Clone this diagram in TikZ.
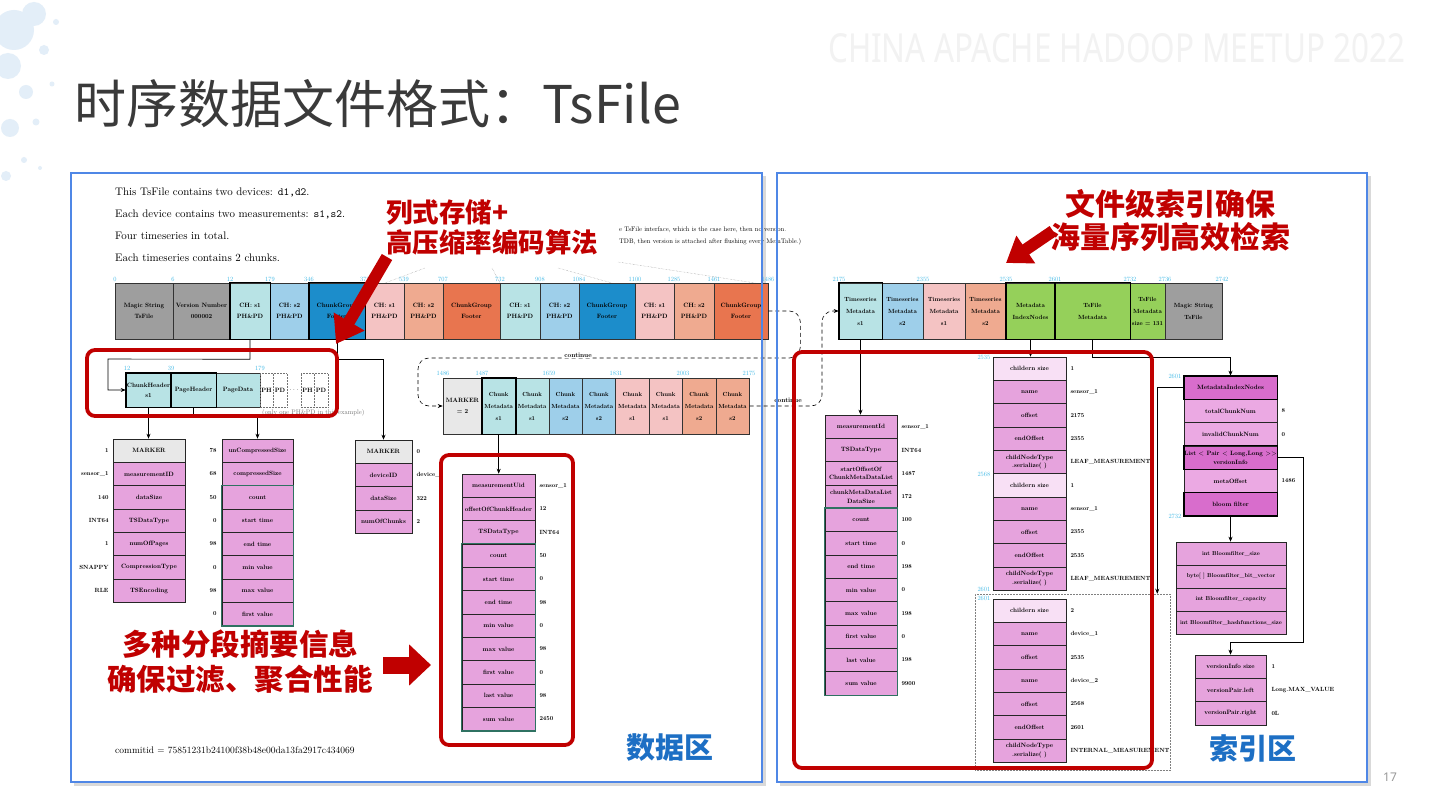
\documentclass[tikz,border=0pt]{standalone}
\usepackage{fontspec}
\usepackage{graphicx}
\usepackage{tikz}
\usetikzlibrary{positioning,arrows.meta,calc}
\setmainfont{lmroman10-regular.otf}[BoldFont=lmroman10-bold.otf, ItalicFont=lmroman10-italic.otf, BoldItalicFont=lmroman10-bolditalic.otf]
\newfontfamily\cjk{Noto Sans CJK SC}
\newfontfamily\slidesans{Noto Sans}
\definecolor{panelblue}{HTML}{4F87E6}
\definecolor{magicgrey}{HTML}{9E9E9E}
\definecolor{markgrey}{HTML}{E8E8E8}
\definecolor{cyanl}{HTML}{B8E3E5}
\definecolor{bluel}{HTML}{9ECFEA}
\definecolor{blued}{HTML}{1C8DCB}
\definecolor{pinkl}{HTML}{F4C3C3}
\definecolor{salm}{HTML}{EFAA90}
\definecolor{orng}{HTML}{E8754F}
\definecolor{grn}{HTML}{95D05A}
\definecolor{tabpink}{HTML}{E6A3DD}
\definecolor{tablite}{HTML}{F8E0F5}
\definecolor{tabdeep}{HTML}{D86DCC}
\definecolor{tabmid}{HTML}{EBA9E3}
\definecolor{statgreen}{HTML}{2F7262}
\definecolor{offcyan}{HTML}{3DB8E6}
\definecolor{callred}{HTML}{C00000}
\definecolor{zoneblue}{HTML}{1D6FC4}
\definecolor{splashblue}{HTML}{E3EEF8}
\definecolor{titlegrey}{HTML}{3A3A3A}
\tikzset{
  ts base/.style={align=center, inner sep=0pt, font=\fontsize{6.2}{11.5}\selectfont\bfseries},
  ts blk/.style={ts base, draw=black!80, line width=0.6pt, minimum height=56pt},
  ts sub/.style={ts base, draw=black!80, line width=0.6pt, fill=cyanl, minimum height=34pt, font=\fontsize{6.2}{10}\selectfont\bfseries},
  ts ph/.style={ts base, draw=black!55, densely dotted, line width=0.5pt, minimum height=34pt},
  ts off/.style={font=\fontsize{6.4}{7}\selectfont, text=offcyan, inner sep=0.5pt, anchor=south},
  ts row/.style={ts base, draw=black!85, line width=0.6pt, fill=tabpink, minimum height=23.33pt, font=\fontsize{6.2}{8.6}\selectfont\bfseries},
  ts val/.style={font=\fontsize{6}{7}\selectfont\bfseries, inner sep=0pt},
  ts arr/.style={-{Stealth[length=5pt, width=4pt]}, line width=0.6pt, black},
  ts stat/.style={draw=statgreen, line width=1.3pt},
  ts redbox/.style={draw=callred, line width=3.8pt, rounded corners=8pt},
  ts call/.style={text=callred, align=center, inner sep=0pt},
  ts cont/.style={dash pattern=on 4pt off 3pt, line width=0.6pt, rounded corners=11pt, -{Stealth[length=5pt, width=4pt]}},
  ts contlbl/.style={font=\fontsize{6.5}{7}\selectfont\bfseries, inner sep=0.6pt, fill=white},
  ts zone/.style={font=\cjk\bfseries\fontsize{29}{32}\selectfont, text=zoneblue, inner sep=0pt},
  ts panel/.style={draw=panelblue, line width=2.6pt},
}
\begin{document}
\begin{tikzpicture}[x=1pt, y=-1pt]
  \useasboundingbox (0,0) rectangle (1440,810);
  \fill[white] (0,0) rectangle (1440,810);
  % slide decoration
  \foreach \x/\y/\r in {14/30/20, 34/14/12, 8/66/13, 26/92/7, 44/50/5, 10/128/9, 36/122/3.5, 56/22/3, 6/176/5, 52/84/2.5, 24/160/3, 40/168/2}
    \fill[splashblue] (\x,\y) circle[radius=\r];
  \node[anchor=west, inner sep=0pt, text=black!5] (wm) at (828,48) {\resizebox{577pt}{29pt}{\slidesans CHINA APACHE HADOOP MEETUP 2022}};
  \node[anchor=west, inner sep=0pt, text=titlegrey, font=\cjk\fontsize{52}{56}\selectfont] (title) at (74,104) {时序数据文件格式：TsFile};
  \node[text=black!40, font=\slidesans\fontsize{12}{14}\selectfont] (pgno) at (1390,777) {17};
  % panels
  \fill[black!15] (74,176) rectangle (766,786);
  \fill[black!15] (780,176) rectangle (1371,786);
  \fill[white] (71,173) rectangle (762,782);
  \fill[white] (777,173) rectangle (1367,782);

  % ---------------- data area ----------------
  \foreach \t [count=\i from 0] in {{This TsFile contains two devices: \texttt{d1,d2}.}, {Each device contains two measurements: \texttt{s1,s2}.}, {Four timeseries in total.}, {Each timeseries contains 2 chunks.}}
    \node[anchor=west, inner sep=0pt, font=\fontsize{10.9}{12}\selectfont] (info\i) at (115,{192+22*\i}) {\t};
  \node[anchor=west, inner sep=0pt, font=\fontsize{6.6}{7}\selectfont] (vers1) at (619,230) {e TsFile interface, which is the case here, then no version.};
  \node[anchor=west, inner sep=0pt, font=\fontsize{6.6}{7}\selectfont] (vers2) at (619,242) {TDB, then version is attached after flushing every MemTable.)};
  \foreach \a/\b in {385/283, 425/268, 492/268, 500/283, 558/268, 612/283, 618/262, 768/285}
    \coordinate (dl\a) at (\a,\b);
  \draw[densely dotted, black!45, line width=0.4pt] (dl385) -- (dl425) (dl492) -- (dl500) (dl558) -- (dl612) (dl618) -- (dl768);
  % top row: chunk groups
  \foreach \n/\xa/\xb/\c/\t in {lm/115/173/magicgrey/{Magic String\\TsFile}, lv/173/230/magicgrey/{Version Number\\000002},
      l1/230/270/cyanl/{CH: s1\\PH\&PD}, l2/270/309/bluel/{CH: s2\\PH\&PD}, l3/309/365/blued/{ChunkGroup\\Footer},
      l4/365/404/pinkl/{CH: s1\\PH\&PD}, l5/404/443/salm/{CH: s2\\PH\&PD}, l6/443/500/orng/{ChunkGroup\\Footer},
      l7/500/540/cyanl/{CH: s1\\PH\&PD}, l8/540/579/bluel/{CH: s2\\PH\&PD}, l9/579/635/blued/{ChunkGroup\\Footer},
      l10/635/674/pinkl/{CH: s1\\PH\&PD}, l11/674/714/salm/{CH: s2\\PH\&PD}, l12/714/768/orng/{ChunkGroup\\Footer}}
    \node[ts blk, fill=\c, minimum width={\xb-\xa}] (\n) at ({(\xa+\xb)/2},311) {\t};
  \foreach \n in {l1,l3} \draw[line width=1.6pt] (\n.south west) rectangle (\n.north east);
  \foreach \x/\v [count=\i] in {115/0, 173/6, 230/12, 270/179, 309/346, 365/372, 404/539, 443/707, 500/732, 540/908, 579/1084, 635/1100, 674/1285, 714/1461, 768/1486}
    \node[ts off] (lo\i) at (\x,282) {\v};
  % chunk s1 expanded
  \node[ts sub, minimum width=45pt] (chh) at (148.5,390) {ChunkHeader\\s1};
  \node[ts sub, minimum width=45pt] (phd) at (193.5,390) {PageHeader};
  \node[ts sub, minimum width=44pt] (pdt) at (238,390) {PageData};
  \foreach \n in {chh,phd} \draw[line width=1.6pt] (\n.south west) rectangle (\n.north east);
  \node[ts ph, minimum width=13.5pt] (ph1) at (266.5,390) {PH};
  \node[ts ph, minimum width=13.5pt] (pd1) at (280,390) {PD};
  \node[ts base, minimum width=14pt] (pdots) at (294,390) {$\cdots$};
  \node[ts ph, minimum width=13.5pt] (ph2) at (307.5,390) {PH};
  \node[ts ph, minimum width=13.5pt] (pd2) at (321,390) {PD};
  \node[anchor=north west, inner sep=0pt, text=black!55, font=\fontsize{6.6}{7}\selectfont] (pnote) at (262,409) {(only one PH\&PD in this example)};
  \node[ts off] (so1) at (127,371) {12};
  \node[ts off] (so2) at (171,371) {39};
  \node[ts off] (so3) at (260,371) {179};
  \draw[ts arr] (l1.south) -- ++(0,20) -- (108,359) -- (108,390) -- (chh.west);
  % chunk header
  \foreach \t/\v/\c [count=\i from 0] in {MARKER/1/markgrey, measurementID/sensor\_1/tabpink, dataSize/140/tabpink, TSDataType/INT64/tabpink, numOfPages/1/tabpink, CompressionType/SNAPPY/tabpink, TSEncoding/RLE/tabpink}{
    \node[ts row, fill=\c, minimum width=72pt] (ck\i) at (149,{450.67+23.33*\i}) {\t};
    \node[ts val, anchor=east] (ckv\i) at ([xshift=-4pt]ck\i.west) {\v};
  }
  % page header
  \foreach \t/\v [count=\i from 0] in {unCompressedSize/78, compressedSize/68, count/50, start time/0, end time/98, min value/0, max value/98, first value/0}{
    \node[ts row, minimum width=71pt] (pg\i) at (257.5,{450.67+23.33*\i}) {\t};
    \node[ts val, anchor=east] (pgv\i) at ([xshift=-5pt]pg\i.west) {\v};
  }
  \draw[ts stat] (pg2.north west) rectangle (pg7.south east);
  % chunk group footer
  \foreach \t/\v/\c [count=\i from 0] in {MARKER/0/markgrey, deviceID/device\_/tabpink, dataSize/322/tabpink, numOfChunks/2/tabpink}{
    \node[ts row, fill=\c, minimum width=57pt] (gf\i) at (383.5,{451.67+23.33*\i}) {\t};
    \node[ts val, anchor=west] (gfv\i) at ([xshift=4pt]gf\i.east) {\v};
  }
  \draw[ts arr] (chh.south) -- (chh.south |- ck0.north);
  \draw[ts arr] (phd.south) -- ++(0,9) -| (pg0.north);
  \draw[ts arr] (l3.south) -- ++(0,20) -| (gf0.north);
  % chunk metadata list
  \node[ts blk, fill=markgrey, minimum width=39pt] (cmk) at (462.5,406) {MARKER\\= 2};
  \foreach \c/\s [count=\i] in {cyanl/s1, cyanl/s1, bluel/s2, bluel/s2, pinkl/s1, pinkl/s1, salm/s2, salm/s2}
    \node[ts blk, fill=\c, minimum width=33.4pt, font=\fontsize{5.9}{12}\selectfont\bfseries] (cm\i) at ({482+33.4*(\i-0.5)},406) {Chunk\\Metadata\\\s};
  \draw[line width=1.6pt] (cm1.south west) rectangle (cm1.north east);
  \foreach \x/\v [count=\i] in {443/1486, 482/1487, 549/1659, 616/1831, 683/2003, 749/2175}
    \node[ts off] (co\i) at (\x,376) {\v};
  \draw[ts cont] (l12.east) -- ++(32,0) -- ++(0,47) -- (418,358) -- (418,406) -- (cmk.west);
  \node[ts contlbl] (cont1) at (578,355) {continue};
  % chunk metadata
  \foreach \t/\v [count=\i from 0] in {measurementUid/sensor\_1, offsetOfChunkHeader/12, TSDataType/INT64, count/50, start time/0, end time/98, min value/0, max value/98, first value/0, last value/98, sum value/2450}{
    \node[ts row, minimum width=73pt] (md\i) at (498.5,{485.67+23.33*\i}) {\t};
    \node[ts val, anchor=west] (mdv\i) at ([xshift=4pt]md\i.east) {\v};
  }
  \draw[ts stat] (md3.north west) rectangle (md10.south east);
  \draw[ts arr] (cm1.south) -- (cm1.south |- md0.north);

  % ---------------- index area ----------------
  \foreach \n/\xa/\xb/\c/\t in {r1/839/882/cyanl/{Timeseries\\Metadata\\s1}, r2/882/923/bluel/{Timeseries\\Metadata\\s2},
      r3/923/965/pinkl/{Timeseries\\Metadata\\s1}, r4/965/1006/salm/{Timeseries\\Metadata\\s2},
      r5/1006/1055/grn/{Metadata\\IndexNodes}, r6/1055/1130/grn/{TsFile\\Metadata},
      r7/1130/1165/grn/{TsFile\\Metadata\\size = 131}, r8/1165/1222/magicgrey/{Magic String\\TsFile}}
    \node[ts blk, fill=\c, minimum width={\xb-\xa}, font=\fontsize{6}{12}\selectfont\bfseries] (\n) at ({(\xa+\xb)/2},311) {\t};
  \foreach \n in {r1,r5,r6} \draw[line width=1.6pt] (\n.south west) rectangle (\n.north east);
  \foreach \x/\v [count=\i] in {839/2175, 923/2355, 1006/2535, 1055/2601, 1130/2732, 1165/2736, 1222/2742}
    \node[ts off] (ro\i) at (\x,282) {\v};
  \draw[ts cont] (cm8.east) -- (822,406) -- (822,311) -- (r1.west);
  \node[ts contlbl, fill=none] (cont2) at (788,400) {continue};
  % timeseries metadata
  \foreach \t/\v [count=\i from 0] in {measurementId/sensor\_1, TSDataType/INT64, {startOffsetOf\\ChunkMetaDataList}/1487, {chunkMetaDataList\\DataSize}/172, count/100, start time/0, end time/198, min value/0, max value/198, first value/0, last value/198, sum value/9900}{
    \node[ts row, minimum width=72pt] (tm\i) at (861,{426.67+23.33*\i}) {\t};
    \node[ts val, anchor=west] (tmv\i) at ([xshift=4pt]tm\i.east) {\v};
  }
  \draw[ts stat] (tm4.north west) rectangle (tm11.south east);
  \draw[ts arr] (r1.south) -- (r1.south |- tm0.north);
  % metadata index nodes
  \foreach \t/\v/\c [count=\i from 0] in {childern size/1/tablite, name/sensor\_1/tabpink, offset/2175/tabpink, endOffset/2355/tabpink, {childNodeType\\.serialize( )}/LEAF\_MEASUREMENT/tabpink,
      childern size/1/tablite, name/sensor\_1/tabpink, offset/2355/tabpink, endOffset/2535/tabpink, {childNodeType\\.serialize( )}/LEAF\_MEASUREMENT/tabpink}{
    \node[ts row, fill=\c, minimum width=73pt] (ix\i) at (1029.5,{368.67+23.33*\i}) {\t};
    \node[ts val, anchor=west] (ixv\i) at ([xshift=4pt]ix\i.east) {\v};
  }
  \node[draw=black!50, densely dotted, line width=0.5pt, minimum width=195pt, minimum height=176pt, inner sep=0pt] (ixdot) at (1072.5,682) {};
  \foreach \t/\v/\c [count=\i from 0] in {childern size/2/tablite, name/device\_1/tabpink, offset/2535/tabpink, name/device\_2/tabpink, offset/2568/tabpink, endOffset/2601/tabpink, {childNodeType\\.serialize( )}/INTERNAL\_MEASUREMENT/tabpink}{
    \node[ts row, fill=\c, minimum width=73pt] (iy\i) at (1029.5,{610.67+23.33*\i}) {\t};
    \node[ts val, anchor=west] (iyv\i) at ([xshift=4pt]iy\i.east) {\v};
  }
  \node[ts off, anchor=east] (io1) at (991,357) {2535};
  \node[ts off, anchor=east] (io2) at (991,474) {2568};
  \node[ts off, anchor=east] (io3) at (991,589) {2601};
  \node[ts off, anchor=east] (io4) at (991,598) {2601};
  \draw[ts arr] (r5.south) -- (r5.south |- ix0.north);
  % tsfile metadata
  \foreach \t/\v/\c [count=\i from 0] in {MetadataIndexNodes//tabdeep, totalChunkNum/8/tabmid, invalidChunkNum/0/tabmid, {List $<$ Pair $<$ Long,Long $>>$\\versionInfo}//tabdeep, metaOffset/1486/tabmid, bloom filter//tabdeep}{
    \node[ts row, fill=\c, minimum width=93pt] (fm\i) at (1230.5,{387.67+23.33*\i}) {\t};
    \node[ts val, anchor=west] (fmv\i) at ([xshift=4pt]fm\i.east) {\v};
  }
  \foreach \i in {0,3,5} \draw[line width=1.6pt] (fm\i.north west) rectangle (fm\i.south east);
  \node[ts off, anchor=east] (fo1) at (1182,376) {2601};
  \node[ts off, anchor=east] (fo2) at (1182,516) {2732};
  \draw[ts arr] (r6.south) -- ++(0,18) -| (fm0.north);
  \draw[ts arr] (fm0.west) -| ([xshift=-13pt]ixdot.north east);
  % bloom filter
  \foreach \t [count=\i from 0] in {int Bloomfilter\_size, byte[ ] Bloomfilter\_bit\_vector, int Bloomfilter\_capacity, int Bloomfilter\_hashfunctions\_size}
    \node[ts row, minimum width=110pt, minimum height=23pt, font=\fontsize{5.7}{7}\selectfont\bfseries] (bf\i) at (1231,{553.5+23*\i}) {\t};
  \draw[ts arr] (fm5.south) -- (fm5.south |- bf0.north);
  % version info
  \foreach \t/\v [count=\i from 0] in {versionInfo size/1, versionPair.left/Long.MAX\_VALUE, versionPair.right/0L}{
    \node[ts row, minimum width=71pt] (vi\i) at (1230.5,{666.67+23.33*\i}) {\t};
    \node[ts val, anchor=west] (viv\i) at ([xshift=5pt]vi\i.east) {\v};
  }
  \draw[ts arr] (fm3.east) -- ++(26,0) |- ([yshift=12pt]vi0.north) -- (vi0.north);

  % ---------------- callouts ----------------
  \draw[ts redbox] (87,350) rectangle (337,416);
  \draw[ts redbox] (441,455) rectangle (573,745);
  \draw[ts redbox] (794,352) rectangle (1152,768);
  \node[ts call, align=left, anchor=west, font=\cjk\bfseries\fontsize{26.5}{30}\selectfont] (call1) at (386,227) {列式存储+\\高压缩率编码算法};
  \node[ts call, font=\cjk\bfseries\fontsize{29.5}{35}\selectfont] (call3) at (240,662) {多种分段摘要信息\\确保过滤、聚合性能};
  \node[ts call, font=\cjk\bfseries\fontsize{30}{33}\selectfont] (call2) at (1170,221) {文件级索引确保\\海量序列高效检索};
  \coordinate (a1s) at (387,257); \coordinate (a1e) at (336,344);
  \coordinate (a2s) at (1053,231); \coordinate (a2e) at (1006,263);
  \coordinate (a3s) at (383,665); \coordinate (a3e) at (431,665);
  \draw[callred, line width=12pt, -{Triangle[length=26pt, width=34pt]}] (a1s) -- (a1e);
  \draw[callred, line width=12pt, -{Triangle[length=24pt, width=32pt]}] (a2s) -- (a2e);
  \draw[callred, line width=17pt, -{Triangle[length=22pt, width=40pt]}] (a3s) -- (a3e);
  \node[ts zone] (zone1) at (670,748) {数据区};
  \node[ts zone] (zone2) at (1253,748) {索引区};
  \node[anchor=west, inner sep=0pt, font=\fontsize{9.5}{10}\selectfont] (commit) at (115,750) {commitid $=$ 75851231b24100f38b48e00da13fa2917c434069};
  % panel frames
  \draw[ts panel] (71,173) rectangle (762,782);
  \draw[ts panel] (777,173) rectangle (1367,782);
\end{tikzpicture}
\end{document}
